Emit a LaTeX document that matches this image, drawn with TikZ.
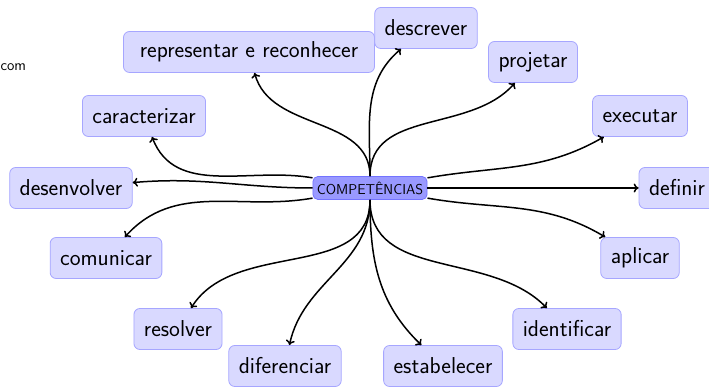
\documentclass[tikz,border=0pt]{standalone}
\usetikzlibrary{arrows.meta}
\begin{document}
\begin{tikzpicture}[x=1pt,y=1pt,
  leaf/.style={draw=blue!35, fill=blue!15, rounded corners=6pt, line width=0.8pt,
    minimum height=41pt, inner xsep=10pt, font=\sffamily\fontsize{23}{27}\selectfont},
  hub/.style={draw=blue!55, fill=blue!40, rounded corners=5pt, line width=0.8pt,
    minimum height=23pt, inner xsep=4pt, font=\sffamily\fontsize{14.3}{16}\selectfont},
  link/.style={line width=1.5pt, -{To[length=5pt,width=9pt]}}]
\useasboundingbox (0,0) rectangle (709,387);
\node[anchor=west, font=\sffamily\fontsize{15}{17}\selectfont] (wm) at (-3,320) {com};
\node[hub] (c) at (370,199) {COMPETÊNCIAS};
\node[leaf, minimum width=251pt] (rep) at (249,335) {representar e reconhecer};
\node[leaf] (des) at (426,359) {descrever};
\node[leaf] (pro) at (533,325) {projetar};
\node[leaf] (exe) at (640,271) {executar};
\node[leaf] (def) at (677,199) {definir};
\node[leaf] (apl) at (640,129) {aplicar};
\node[leaf] (ide) at (567,58) {identificar};
\node[leaf] (est) at (443,21) {estabelecer};
\node[leaf] (dif) at (285,21) {diferenciar};
\node[leaf] (res) at (178,58) {resolver};
\node[leaf] (com) at (106,129) {comunicar};
\node[leaf] (dsv) at (71,199) {desenvolver};
\node[leaf] (car) at (144,271) {caracterizar};
\draw[link] (c) to[out=90,in=-75] (rep);
\draw[link] (c) to[out=90,in=-140] (des);
\draw[link] (c) to[out=90,in=-131] (pro);
\draw[link] (c) to[out=10,in=-150] (exe);
\draw[link] (c) to[out=0,in=180] (def);
\draw[link] (c) to[out=-10,in=149] (apl);
\draw[link] (c) to[out=-90,in=134] (ide);
\draw[link] (c) to[out=-90,in=136] (est);
\draw[link] (c) to[out=-90,in=78] (dif);
\draw[link] (c) to[out=-90,in=58] (res);
\draw[link] (c) to[out=190,in=48] (com);
\draw[link] (c) to[out=180,in=5] (dsv);
\draw[link] (c) to[out=170,in=-69] (car);
\end{tikzpicture}
\end{document}
